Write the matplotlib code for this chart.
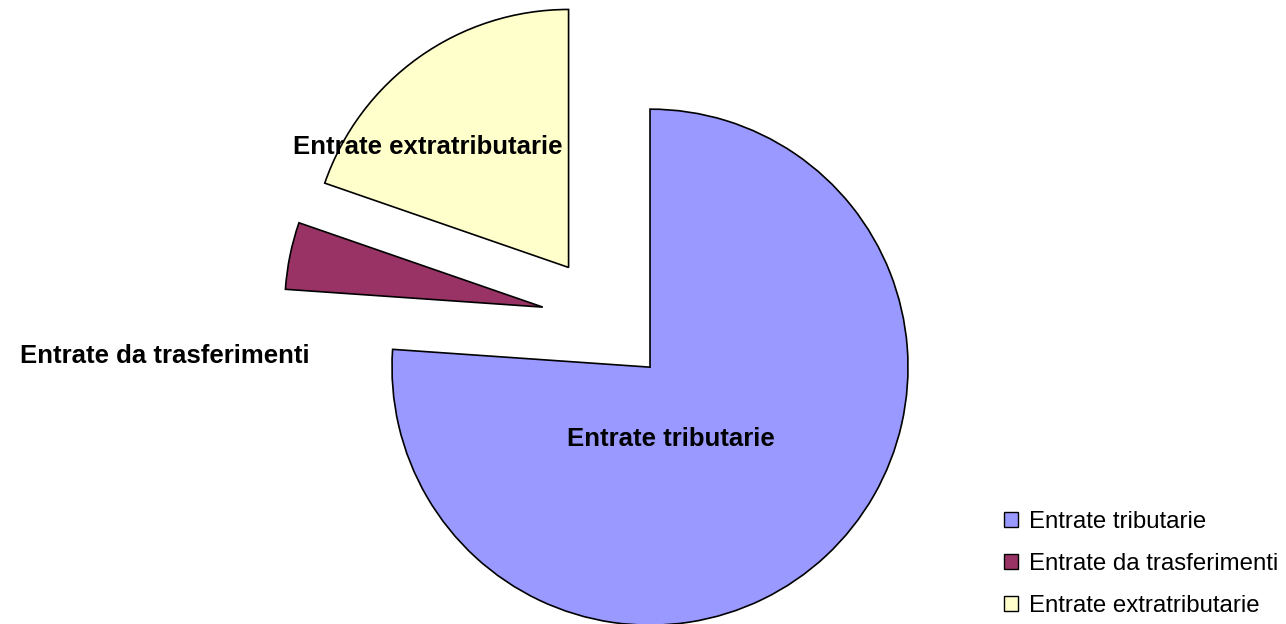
import matplotlib.pyplot as plt
from matplotlib.patches import Patch

# Data
categories = ['Entrate tributarie', 'Entrate da trasferimenti', 'Entrate extratributarie']
values = [76.1, 4.2, 19.7]
colors = ['#9999FF', '#993366', '#FFFFCC']
explode = [0.25, 0.25, 0.25]

# label offsets (pie radius units), relative to pie centre
label_pos = [(0.25, -0.46), (-1.71, -0.14), (-0.69, 0.67)]

plt.rcParams['font.family'] = ['Liberation Sans', 'DejaVu Sans']

fig = plt.figure(figsize=(12.86, 6.24), dpi=100)
ax = fig.add_axes([0, 0, 1, 1])

wedges, _ = ax.pie(values, colors=colors, explode=explode, startangle=90,
                   counterclock=False, radius=1,
                   wedgeprops=dict(edgecolor='black', linewidth=1.2))

# scale: pie centre at (606, 320) px, radius 258 px
r_px = 258.0
cx, cy = 606.0, 320.0
ax.set_xlim(-cx / r_px, (1286 - cx) / r_px)
ax.set_ylim(-(624 - cy) / r_px, cy / r_px)
ax.set_aspect('auto')
ax.axis('off')

for name, (lx, ly) in zip(categories, label_pos):
    ax.text(lx, ly, name, ha='center', va='center', fontsize=18.5,
            fontweight='bold', color='black')

handles = [Patch(facecolor=c, edgecolor='black', linewidth=1) for c in colors]
fig.legend(handles, categories, loc='lower left', bbox_to_anchor=(0.766, -0.02),
           frameon=False, fontsize=17.3, handlelength=0.57, handleheight=0.57,
           handletextpad=0.45, labelspacing=0.84, borderpad=0.3)

plt.savefig('out.png', dpi=100)
